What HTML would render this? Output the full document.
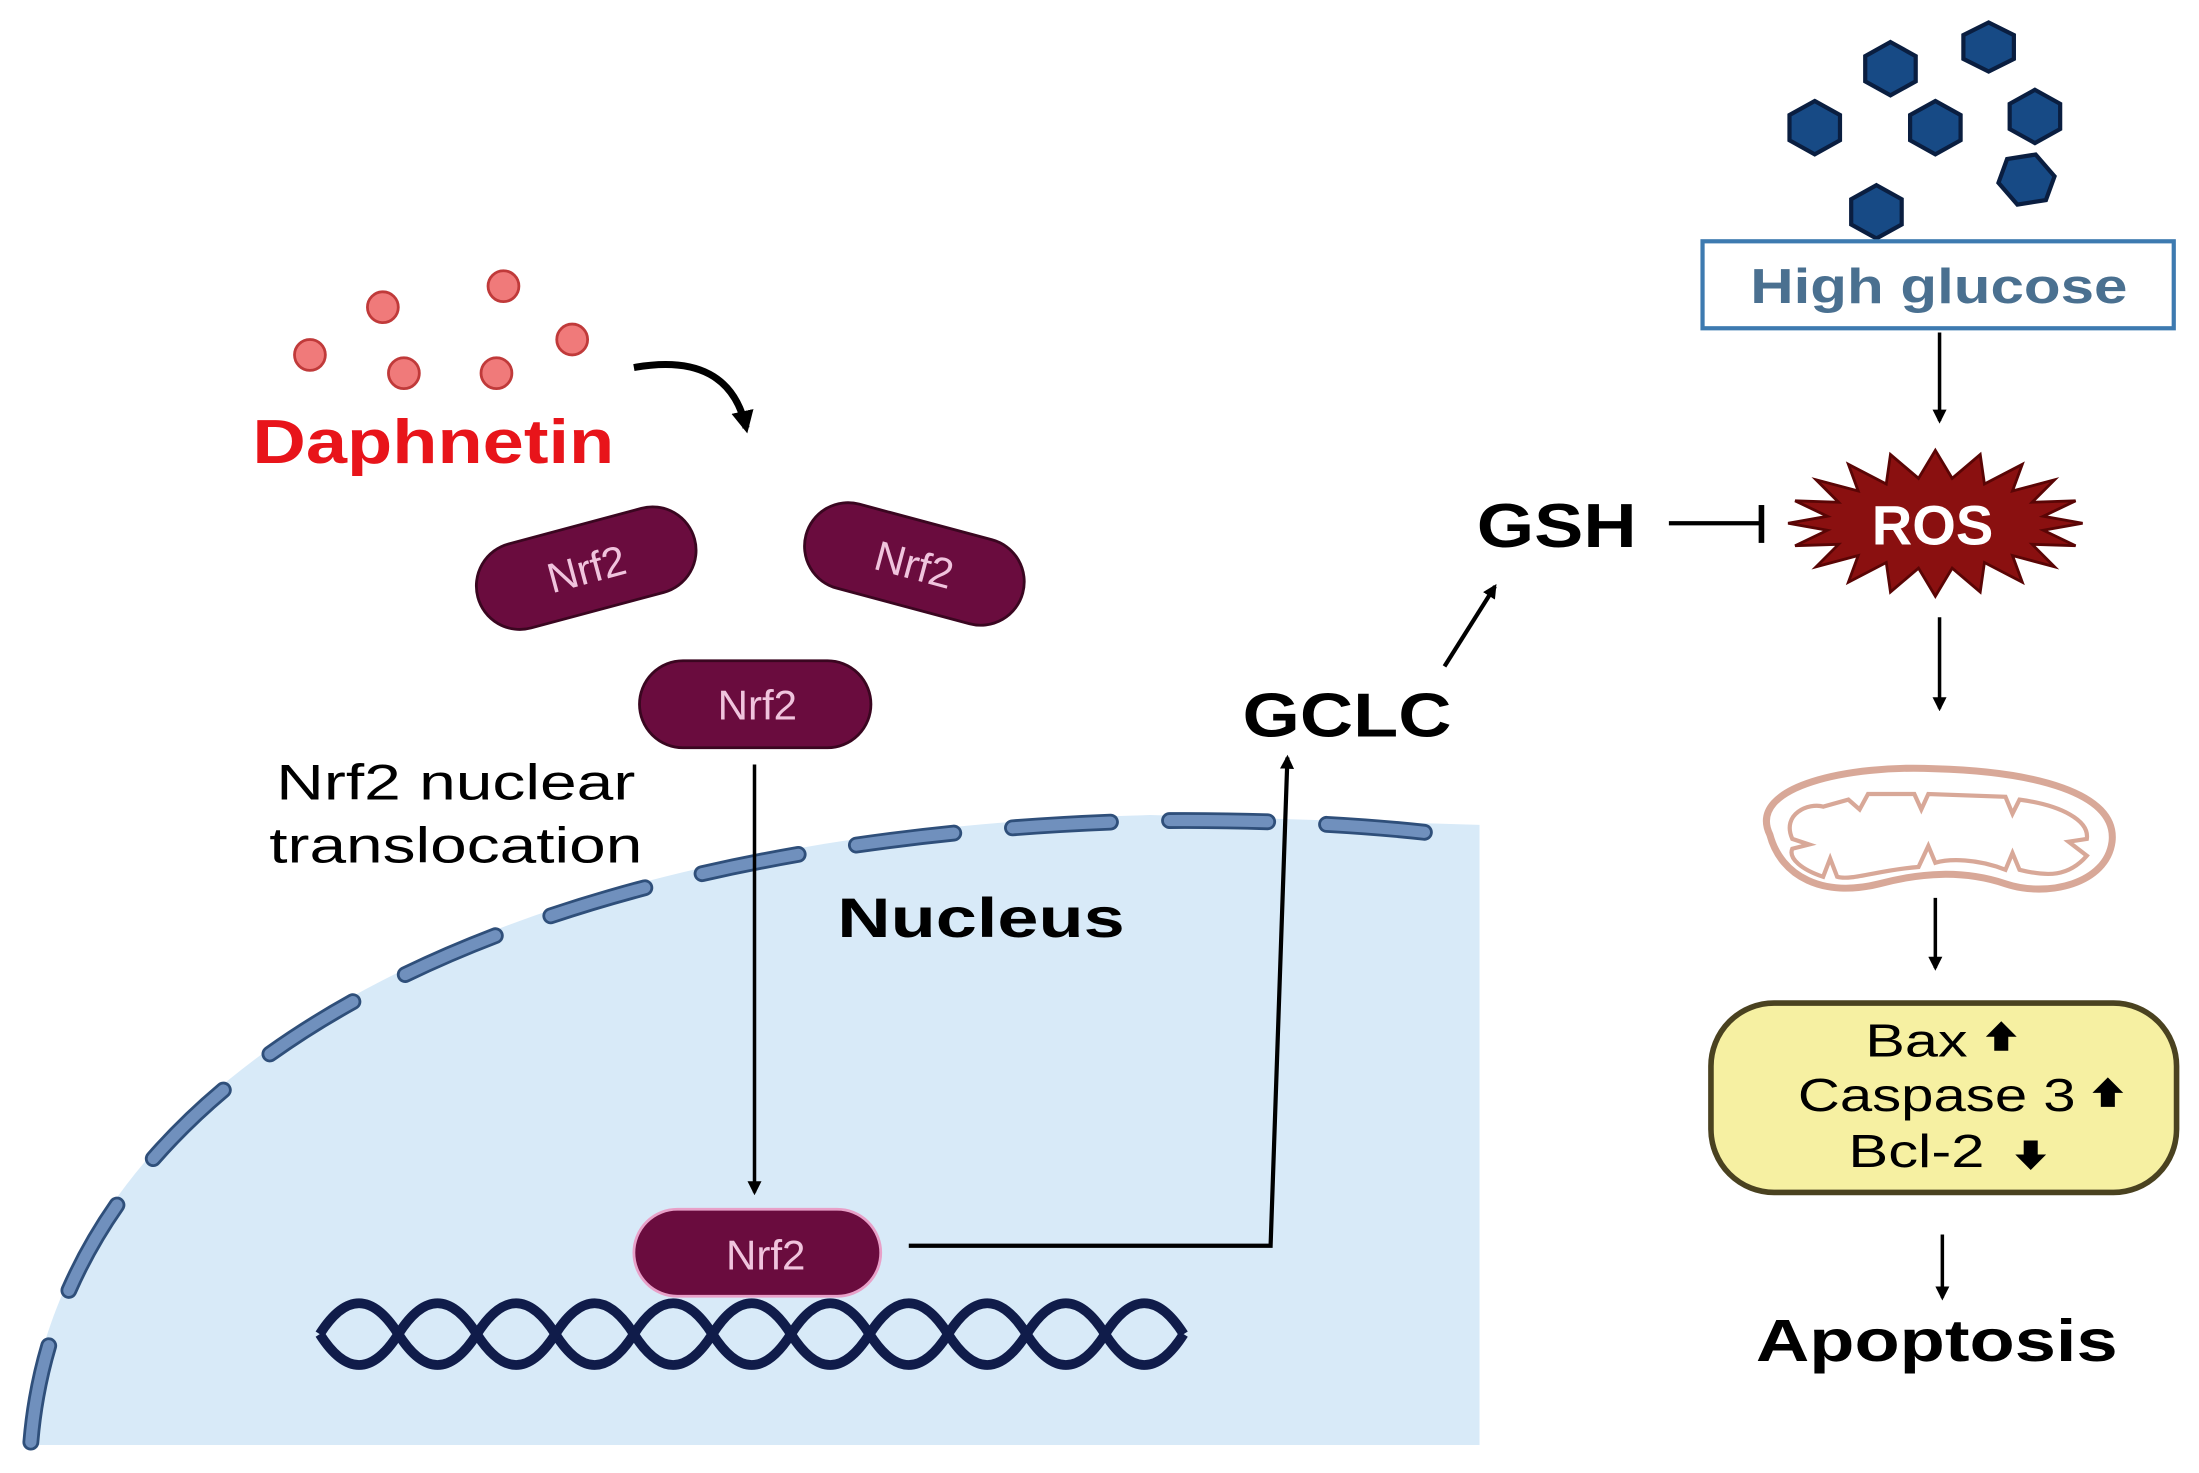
<!DOCTYPE html>
<html><head><meta charset="utf-8"><style>
html,body{margin:0;padding:0;background:#fff;}
svg{display:block;}
text{font-family:"Liberation Sans",sans-serif;}
</style></head><body>
<svg width="2199" height="1473" viewBox="0 0 1568 1050" preserveAspectRatio="none" xmlns="http://www.w3.org/2000/svg">
<defs>
<marker id="ah" markerWidth="10" markerHeight="10" refX="8" refY="5" orient="auto" markerUnits="userSpaceOnUse" viewBox="0 0 10 10">
<path d="M0,0 L10,5 L0,10 Z" fill="#000"/></marker>
<marker id="ah2" markerWidth="16" markerHeight="16" refX="12" refY="8" orient="auto" markerUnits="userSpaceOnUse" viewBox="0 0 16 16">
<path d="M0,0 L16,8 L0,16 Z" fill="#000"/></marker>
</defs>
<rect width="1568" height="1050" fill="#fff"/>
<!-- nucleus -->
<path d="M18,1030 C40,760 360,592 820,581 L1055,588 L1055,1030 Z" fill="#d8eaf8"/>
<path d="M22,1028 C44,760 364,596 824,585 C920,584 1000,590 1052,598" fill="none" stroke="#2f4f7a" stroke-width="12" stroke-linecap="round" stroke-dasharray="70 42"/>
<path d="M22,1028 C44,760 364,596 824,585 C920,584 1000,590 1052,598" fill="none" stroke="#7090bd" stroke-width="8" stroke-linecap="round" stroke-dasharray="70 42"/>
<text x="597" y="668" font-size="40" font-weight="bold" textLength="205" lengthAdjust="spacingAndGlyphs">Nucleus</text>
<!-- DNA -->
<path d="M228,951 q28,-44 56,0 t56,0 t56,0 t56,0 t56,0 t56,0 t56,0 t56,0 t56,0 t56,0 t56,0" fill="none" stroke="#101c4a" stroke-width="7"/>
<path d="M228,951 q28,44 56,0 t56,0 t56,0 t56,0 t56,0 t56,0 t56,0 t56,0 t56,0 t56,0 t56,0" fill="none" stroke="#101c4a" stroke-width="7"/>
<!-- Daphnetin dots -->
<g fill="#f07a7a" stroke="#c03a3a" stroke-width="2">
<circle cx="221" cy="253" r="11"/><circle cx="273" cy="219" r="11"/><circle cx="359" cy="204" r="11"/>
<circle cx="408" cy="242" r="11"/><circle cx="288" cy="266" r="11"/><circle cx="354" cy="266" r="11"/></g>
<text x="180" y="330" font-size="44" font-weight="bold" fill="#e8141a" textLength="258" lengthAdjust="spacingAndGlyphs">Daphnetin</text>
<path d="M452,262 Q520,250 532,305" fill="none" stroke="#000" stroke-width="5" marker-end="url(#ah2)"/>
<!-- Nrf2 pills -->
<g fill="#6a0c3e" stroke="#3a0620" stroke-width="2">
<rect x="338" y="374" width="160" height="62" rx="31" transform="rotate(-15 418 405)"/>
<rect x="572" y="371" width="160" height="62" rx="31" transform="rotate(15 652 402)"/>
<rect x="456" y="471" width="165" height="62" rx="31"/>
<rect x="452" y="862" width="176" height="62" rx="31" stroke="#e8a0c8"/>
</g>
<g fill="#f0c4dd" font-size="30" text-anchor="middle">
<text x="418" y="416" transform="rotate(-15 418 405)">Nrf2</text>
<text x="652" y="413" transform="rotate(15 652 402)">Nrf2</text>
<text x="540" y="513">Nrf2</text>
<text x="546" y="905">Nrf2</text>
</g>
<text x="197" y="570" font-size="36" textLength="256" lengthAdjust="spacingAndGlyphs">Nrf2 nuclear</text>
<text x="192" y="615" font-size="36" textLength="266" lengthAdjust="spacingAndGlyphs">translocation</text>
<line x1="538" y1="545" x2="538" y2="850" stroke="#000" stroke-width="2.5" marker-end="url(#ah)"/>
<polyline points="648,888 906,888 918,540" fill="none" stroke="#000" stroke-width="3" marker-end="url(#ah)"/>
<text x="886" y="525" font-size="44" font-weight="bold" textLength="149" lengthAdjust="spacingAndGlyphs">GCLC</text>
<line x1="1030" y1="475" x2="1066" y2="418" stroke="#000" stroke-width="3" marker-end="url(#ah)"/>
<text x="1053" y="390" font-size="44" font-weight="bold" textLength="114" lengthAdjust="spacingAndGlyphs">GSH</text>
<line x1="1190" y1="373" x2="1256" y2="373" stroke="#000" stroke-width="3"/>
<line x1="1256" y1="360" x2="1256" y2="387" stroke="#000" stroke-width="4"/>
<!-- glucose hexagons -->
<g fill="#174a85" stroke="#0a1e40" stroke-width="3">
<polygon points="1348,30 1366,40 1366,58 1348,68 1330,58 1330,40" />
<polygon points="1418,16 1436,25 1436,42 1418,51 1400,42 1400,25"/>
<polygon points="1294,72 1312,82 1312,100 1294,110 1276,100 1276,82"/>
<polygon points="1380,72 1398,82 1398,100 1380,110 1362,100 1362,82"/>
<polygon points="1451,64 1469,74 1469,92 1451,102 1433,92 1433,74"/>
<polygon points="1445,109 1463,119 1463,137 1445,147 1427,137 1427,119" transform="rotate(20 1445 128)"/>
<polygon points="1338,132 1356,142 1356,160 1338,170 1320,160 1320,142"/>
</g>
<rect x="1214" y="172" width="336" height="62" fill="#fff" stroke="#3d7ab0" stroke-width="3"/>
<text x="1248" y="216" font-size="35" font-weight="bold" fill="#4a7090" textLength="269" lengthAdjust="spacingAndGlyphs">High glucose</text>
<line x1="1383" y1="237" x2="1383" y2="300" stroke="#000" stroke-width="2.5" marker-end="url(#ah)"/>
<!-- ROS -->
<polygon fill="#8a1010" stroke="#5a0505" stroke-width="2" points="1485,373 1457,378 1480,389 1449,388 1465,404 1435,396 1442,415 1415,401 1412,422 1392,405 1380,425 1368,405 1348,422 1345,401 1318,415 1325,396 1295,404 1311,388 1280,389 1303,378 1275,373 1303,368 1280,357 1311,358 1295,342 1325,350 1318,331 1345,345 1348,324 1368,341 1380,321 1392,341 1412,324 1415,345 1442,331 1435,350 1465,342 1449,358 1480,357 1457,368"/>
<text x="1378" y="388" font-size="40" font-weight="bold" fill="#fff" text-anchor="middle">ROS</text>
<line x1="1383" y1="440" x2="1383" y2="505" stroke="#000" stroke-width="2.5" marker-end="url(#ah)"/>
<!-- mitochondrion -->
<path d="M1262,595 C1245,560 1320,545 1380,548 C1450,550 1510,565 1506,600 C1502,630 1460,640 1430,630 C1400,620 1370,622 1340,630 C1300,640 1270,625 1262,595 Z" fill="#fff" stroke="#d8a898" stroke-width="5"/>
<path d="M1278,598 C1270,580 1290,572 1300,575 L1318,570 L1326,577 L1332,566 L1365,566 L1370,577 L1375,566 L1430,568 L1435,580 L1440,570 C1470,574 1490,585 1488,598 L1475,600 L1488,610 C1475,625 1460,625 1440,620 L1435,608 L1430,620 C1410,612 1390,612 1380,615 L1375,603 L1368,618 C1340,620 1320,628 1310,625 L1305,612 L1300,625 C1285,620 1275,612 1278,605 L1290,602 Z" fill="#fff" stroke="#d8a898" stroke-width="3"/>
<line x1="1380" y1="640" x2="1380" y2="690" stroke="#000" stroke-width="2.5" marker-end="url(#ah)"/>
<!-- yellow box -->
<rect x="1220" y="715" width="332" height="135" rx="45" fill="#f6f0a2" stroke="#4a4220" stroke-width="4"/>
<g font-size="33" fill="#000">
<text x="1330" y="753" textLength="73" lengthAdjust="spacingAndGlyphs">Bax</text>
<text x="1282" y="792" textLength="198" lengthAdjust="spacingAndGlyphs">Caspase 3</text>
<text x="1318" y="832" textLength="97" lengthAdjust="spacingAndGlyphs">Bcl-2</text>
</g>
<g fill="#000">
<path d="M1427,728 l11,11 h-6 v10 h-10 v-10 h-6 z"/>
<path d="M1503,768 l11,11 h-6 v10 h-10 v-10 h-6 z"/>
<path d="M1448,834 l11,-11 h-6 v-10 h-10 v10 h-6 z"/>
</g>
<line x1="1385" y1="880" x2="1385" y2="925" stroke="#000" stroke-width="2.5" marker-end="url(#ah)"/>
<text x="1252" y="970" font-size="42" font-weight="bold" textLength="258" lengthAdjust="spacingAndGlyphs">Apoptosis</text>
</svg>
</body></html>
